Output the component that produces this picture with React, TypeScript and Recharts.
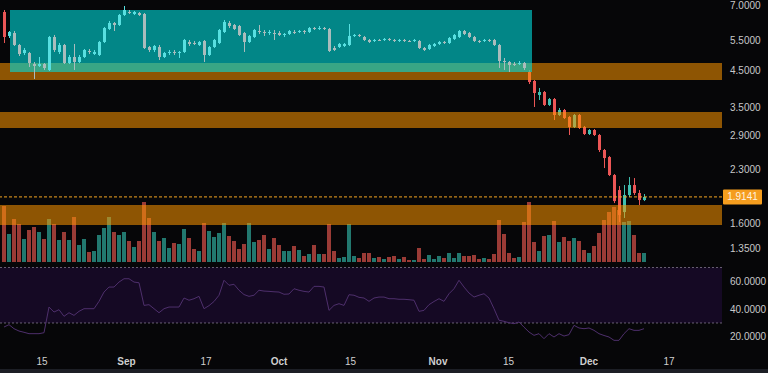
import React from "react";
import { ComposedChart, Bar, Line, XAxis, YAxis, ReferenceArea, ReferenceLine } from "recharts";

// ---- data (daily candles, index 0 = first visible day) ----
const opens = [6.676,5.678,5.793,5.342,5.061,5.061,4.698,4.636,4.698,4.512,5.639,5.096,5.342,4.730,4.926,4.762,4.926,5.130,5.027,4.993,5.452,5.952,6.198,6.115,6.543,6.676,6.586,6.631,6.586,5.270,5.165,5.270,4.926,5.061,5.096,5.061,5.096,5.452,5.415,5.342,5.489,4.993,5.270,5.415,5.833,6.198,6.115,6.074,5.793,5.452,5.639,5.872,5.833,5.793,5.793,5.793,5.716,5.754,5.833,5.833,5.872,5.833,5.992,5.952,5.992,5.952,5.235,5.270,5.306,5.342,5.678,5.716,5.639,5.526,5.489,5.526,5.526,5.564,5.526,5.489,5.526,5.489,5.489,5.489,5.235,5.199,5.306,5.379,5.452,5.415,5.564,5.639,5.872,5.793,5.639,5.489,5.489,5.526,5.526,5.342,4.795,4.762,4.698,4.698,4.730,4.451,4.189,3.810,3.888,3.562,3.708,3.329,3.443,3.284,3.069,3.329,3.069,2.928,3.008,2.908,2.628,2.506,2.219,2.005,1.728,1.939,2.074,1.965,1.874];
const closes = [5.639,5.833,5.342,5.027,5.165,4.730,4.636,4.698,4.573,5.639,5.165,5.342,4.730,4.926,4.762,4.926,5.165,5.096,5.096,5.452,5.992,6.198,6.115,6.543,6.767,6.631,6.676,6.543,5.235,5.165,5.306,4.926,5.061,5.096,5.061,5.096,5.526,5.379,5.379,5.452,4.993,5.270,5.526,5.912,6.240,6.074,5.952,5.716,5.452,5.678,5.912,5.833,5.793,5.833,5.754,5.716,5.754,5.872,5.812,5.872,5.833,5.992,5.952,5.992,5.952,5.130,5.165,5.379,5.379,5.678,5.716,5.678,5.526,5.452,5.526,5.508,5.564,5.526,5.489,5.526,5.489,5.470,5.526,5.235,5.165,5.342,5.379,5.452,5.415,5.601,5.716,5.872,5.754,5.639,5.489,5.452,5.526,5.489,5.342,4.795,4.762,4.667,4.667,4.730,4.573,4.160,3.862,3.888,3.562,3.708,3.329,3.443,3.262,3.069,3.329,3.049,2.928,3.008,2.908,2.628,2.489,2.219,1.861,1.694,1.939,2.074,1.965,1.874,1.914];
const highs = [6.767,5.872,5.872,5.379,5.235,5.096,4.762,4.926,4.730,5.678,5.716,5.415,5.379,4.993,5.379,4.993,5.199,5.199,5.165,5.489,6.033,6.283,6.240,6.586,6.953,6.767,6.721,6.676,6.631,5.306,5.342,5.342,5.096,5.165,5.165,5.130,5.564,5.526,5.489,5.489,5.526,5.306,5.564,5.952,6.325,6.283,6.156,6.115,5.833,5.716,5.952,6.115,5.912,5.912,5.912,5.872,5.793,5.912,5.912,5.912,5.912,6.033,6.033,6.074,6.033,5.992,5.306,5.415,5.415,6.156,5.754,5.754,5.678,5.564,5.564,5.564,5.601,5.601,5.564,5.564,5.564,5.526,5.564,5.526,5.270,5.379,5.415,5.489,5.489,5.639,5.754,5.912,5.912,5.833,5.678,5.526,5.564,5.564,5.564,5.379,4.893,4.795,4.762,4.795,4.762,4.512,4.217,3.995,3.915,3.734,3.734,3.490,3.467,3.307,3.351,3.351,3.090,3.028,3.028,2.928,2.646,2.523,2.234,2.060,2.074,2.189,2.174,2.005,1.952];
const lows = [5.415,5.601,5.306,4.959,4.993,4.604,4.246,4.604,4.512,4.482,5.096,5.027,4.698,4.698,4.512,4.730,4.893,5.027,4.993,4.959,5.415,5.912,5.872,6.074,6.499,6.586,6.543,6.499,5.199,5.096,5.096,4.827,4.893,4.993,4.993,4.893,5.061,5.306,5.342,5.306,4.762,4.959,5.235,5.379,5.793,5.992,5.912,5.678,5.096,5.415,5.601,5.754,5.678,5.716,5.526,5.678,5.639,5.716,5.754,5.793,5.754,5.793,5.912,5.912,5.912,5.096,5.130,5.235,5.270,5.306,5.639,5.639,5.489,5.415,5.452,5.489,5.489,5.489,5.452,5.452,5.452,5.452,5.452,5.199,5.130,5.165,5.270,5.342,5.379,5.379,5.526,5.601,5.716,5.601,5.452,5.415,5.452,5.452,5.306,4.573,4.512,4.451,4.636,4.667,4.512,4.104,3.514,3.684,3.538,3.538,3.218,3.307,3.240,2.908,3.049,3.028,2.908,2.908,2.888,2.593,2.326,2.204,1.836,1.615,1.660,1.913,1.939,1.812,1.861];
const volumes = [56,28,43,38,23,32,35,30,23,43,38,22,30,22,45,17,23,10,11,27,34,45,30,27,30,21,15,21,60,44,30,21,24,14,19,18,33,24,13,11,39,31,25,29,39,26,21,13,18,39,20,22,27,13,24,17,11,11,16,12,6,8,17,8,8,38,11,4,5,38,6,4,9,9,4,5,3,5,6,3,5,2,2,14,3,7,3,6,4,9,4,9,6,6,7,3,4,3,8,42,28,9,4,5,40,60,20,11,26,27,41,20,25,21,24,21,12,9,16,29,42,50,55,52,40,41,27,9,9];
const rsiValues = [27.1,28.8,25.9,24.2,23.3,22.3,22.3,22.3,23.0,41.5,37.9,39.6,34.8,37.4,35.5,38.4,40.3,40.3,40.3,45.6,52.3,55.9,55.9,59.5,61.9,61.9,59.5,59.0,42.7,43.2,40.3,37.4,40.3,41.5,41.5,41.5,48.0,46.4,47.5,49.2,40.3,42.5,45.5,50.0,60.8,57.2,57.9,53.6,50.5,49.2,50.0,53.6,53.0,52.8,52.5,52.3,50.7,50.9,54.7,53.6,52.8,52.3,56.4,56.4,55.9,39.1,42.7,43.9,42.7,50.4,50.0,48.5,48.0,45.6,48.0,48.7,48.7,47.5,47.5,47.1,47.1,46.8,46.4,38.4,39.1,43.2,45.5,47.5,45.6,51.1,54.7,60.8,55.9,51.6,48.7,50.0,51.1,48.0,40.3,32.0,31.2,30.2,29.5,30.7,27.0,23.5,21.1,22.3,18.7,22.3,19.9,22.3,20.6,21.6,28.3,26.4,25.9,26.4,24.7,22.3,21.0,19.9,17.5,17.5,22.3,25.9,24.7,24.7,25.9];

const priceTicks = [1.35, 1.6, 2.3, 2.9, 3.5, 4.5, 5.5, 7.0];
const rsiTicks = [20, 40, 60];
const dateTickIndex = [7.6, 24.5, 40.4, 55, 69.3, 86.8, 100.9, 117, 133];
const dateTickLabels = ["15", "Sep", "17", "Oct", "15", "Nov", "15", "Dec", "17"];
const lastPrice = 1.9141;
const zoneLows = [4.217, 3.049, 1.583];
const zoneHighs = [4.730, 3.397, 1.812];
const boxStart = 1.2;
const boxEnd = 105.6;
const boxLow = 4.451;
const boxHigh = 6.767;
const boxFirstCandle = 1;
const boxLastCandle = 104;

const rows = opens.map((o, i) => ({
  i,
  o,
  h: highs[i],
  l: lows[i],
  c: closes[i],
  range: [lows[i], highs[i]],
  boxRange: i >= boxFirstCandle && i <= boxLastCandle ? [lows[i], highs[i]] : null,
  vol: volumes[i],
  rsi: rsiValues[i],
}));

const X_DOMAIN: [number, number] = [-0.8, 143.6];
const P_DOMAIN: [number, number] = [1.233, 7.24];
const FONT = "'Liberation Sans', Arial, sans-serif";
const BG = "#060608";

const makeCandle = (up: string, down: string, key: string) => (props: any) => {
  const { x, y, width, height, payload } = props;
  if (x == null || y == null || !payload || !payload[key] || height == null || isNaN(height)) return <g />;
  const { o, h, l, c } = payload;
  const top = height >= 0 ? y : y + height;
  const hh = Math.abs(height);
  const lnH = Math.log(h);
  const lnL = Math.log(l);
  const k = hh / (lnH - lnL);
  const yO = top + (lnH - Math.log(o)) * k;
  const yC = top + (lnH - Math.log(c)) * k;
  const cx = Math.round(x + width / 2) + 0.5;
  const color = c >= o ? up : down;
  const bTop = Math.min(yO, yC);
  const bH = Math.max(1, Math.abs(yC - yO));
  return (
    <g>
      <line x1={cx} x2={cx} y1={top} y2={top + hh} stroke={color} strokeWidth={1} />
      <rect x={cx - 1.5} y={bTop} width={3} height={bH} fill={color} />
    </g>
  );
};

const MainCandle = makeCandle("#3fbfb0", "#ec5656", "range");
const BoxCandle = makeCandle("#58dfe0", "#aabcbc", "boxRange");

const VolumeBar = (props: any) => {
  const { x, y, width, height, payload } = props;
  if (x == null || !payload || height == null) return <g />;
  const cx = Math.round(x + width / 2);
  const color = payload.c >= payload.o ? "#22786f" : "#9a3b36";
  const top = height >= 0 ? y : y + height;
  return <rect x={cx - 2} y={top} width={4} height={Math.abs(height)} fill={color} />;
};

const PriceTag = (props: any) => {
  const vb = props.viewBox || {};
  const x = (vb.x || 0) + (vb.width || 0) + 1;
  const y = vb.y || 0;
  return (
    <g>
      <rect x={x} y={y - 7.5} width={39} height={15} fill="#f59d1e" rx={1} />
      <text x={x + 19.5} y={y} dy="0.35em" textAnchor="middle" fontSize={10} fontFamily={FONT} fill="#fff3e0">
        {lastPrice.toFixed(4)}
      </text>
    </g>
  );
};

const DateTick = (props: any) => {
  const { x, y, payload } = props;
  const idx = dateTickIndex.indexOf(payload.value);
  const label = idx >= 0 ? dateTickLabels[idx] : "";
  const bold = /[A-Za-z]/.test(label);
  return (
    <text x={x} y={y} dy="0.71em" textAnchor="middle" fontSize={10} fontWeight={bold ? 700 : 400} fontFamily={FONT} fill="#cfcfcf">
      {label}
    </text>
  );
};

const axisTick = { fontSize: 10, fill: "#c8c8c8", fontFamily: FONT };

export default function App() {
  return (
    <div style={{ position: "fixed", left: 0, top: 0, width: 768, height: 373, background: BG, overflow: "hidden" }}>
      <ComposedChart width={768} height={265} data={rows} margin={{ top: 0, right: 0, bottom: 3, left: 0 }}>
        <XAxis xAxisId="a" dataKey="i" type="number" domain={X_DOMAIN} allowDataOverflow hide />
        <XAxis xAxisId="b" dataKey="i" type="number" domain={X_DOMAIN} allowDataOverflow hide />
        <XAxis xAxisId="c" dataKey="i" type="number" domain={X_DOMAIN} allowDataOverflow hide />
        <YAxis
          yAxisId="p"
          orientation="right"
          width={46}
          scale="log"
          domain={P_DOMAIN}
          allowDataOverflow
          ticks={priceTicks}
          interval={0}
          tickFormatter={(v: number) => v.toFixed(4)}
          axisLine={false}
          tickLine={false}
          tick={axisTick}
        />
        <YAxis yAxisId="p2" orientation="right" scale="log" domain={P_DOMAIN} allowDataOverflow hide />
        <YAxis yAxisId="v" orientation="left" domain={[0, 262]} allowDataOverflow hide />

        <Bar xAxisId="c" yAxisId="v" dataKey="vol" shape={VolumeBar} isAnimationActive={false} zIndex={300} />
        <Bar xAxisId="a" yAxisId="p" dataKey="range" shape={MainCandle} isAnimationActive={false} zIndex={301} />

        {zoneLows.map((lo, k) => (
          <ReferenceArea
            key={k}
            xAxisId="a"
            yAxisId="p"
            y1={lo}
            y2={zoneHighs[k]}
            fill="#ff9800"
            fillOpacity={0.55}
            stroke="none"
            ifOverflow="hidden"
            zIndex={310}
          />
        ))}
        <ReferenceArea
          xAxisId="a"
          yAxisId="p"
          x1={boxStart}
          x2={boxEnd}
          y1={boxLow}
          y2={boxHigh}
          fill="#00dcdc"
          fillOpacity={0.6}
          stroke="none"
          zIndex={320}
        />
        <Bar xAxisId="b" yAxisId="p2" dataKey="boxRange" shape={BoxCandle} isAnimationActive={false} zIndex={330} />
        <ReferenceLine
          xAxisId="a"
          yAxisId="p"
          y={lastPrice}
          stroke="#f5a623"
          strokeDasharray="3 2"
          strokeWidth={1}
          label={<PriceTag />}
          zIndex={340}
        />
      </ComposedChart>

      <ComposedChart width={768} height={108} data={rows} margin={{ top: 0, right: 0, bottom: 0, left: 0 }}>
        <XAxis
          dataKey="i"
          type="number"
          domain={X_DOMAIN}
          allowDataOverflow
          ticks={dateTickIndex}
          interval={0}
          axisLine={false}
          tickLine={false}
          height={23}
          tick={<DateTick />}
        />
        <YAxis
          orientation="right"
          width={46}
          domain={[10.54, 71.8]}
          allowDataOverflow
          ticks={rsiTicks}
          interval={0}
          tickFormatter={(v: number) => v.toFixed(4)}
          axisLine={false}
          tickLine={false}
          tick={axisTick}
        />
        <ReferenceArea y1={30} y2={70} fill="#150924" fillOpacity={1} stroke="none" />
        <ReferenceLine y={70} stroke="#9a8fa6" strokeDasharray="2 2" strokeOpacity={0.65} />
        <ReferenceLine y={30} stroke="#9a8fa6" strokeDasharray="2 2" strokeOpacity={0.65} />
        <Line dataKey="rsi" type="linear" stroke="#4e2f6c" strokeWidth={1} dot={false} isAnimationActive={false} />
      </ComposedChart>
      <div style={{ position: "absolute", left: 0, bottom: 0, width: 768, height: 4, background: "#1c1e25" }} />
    </div>
  );
}
